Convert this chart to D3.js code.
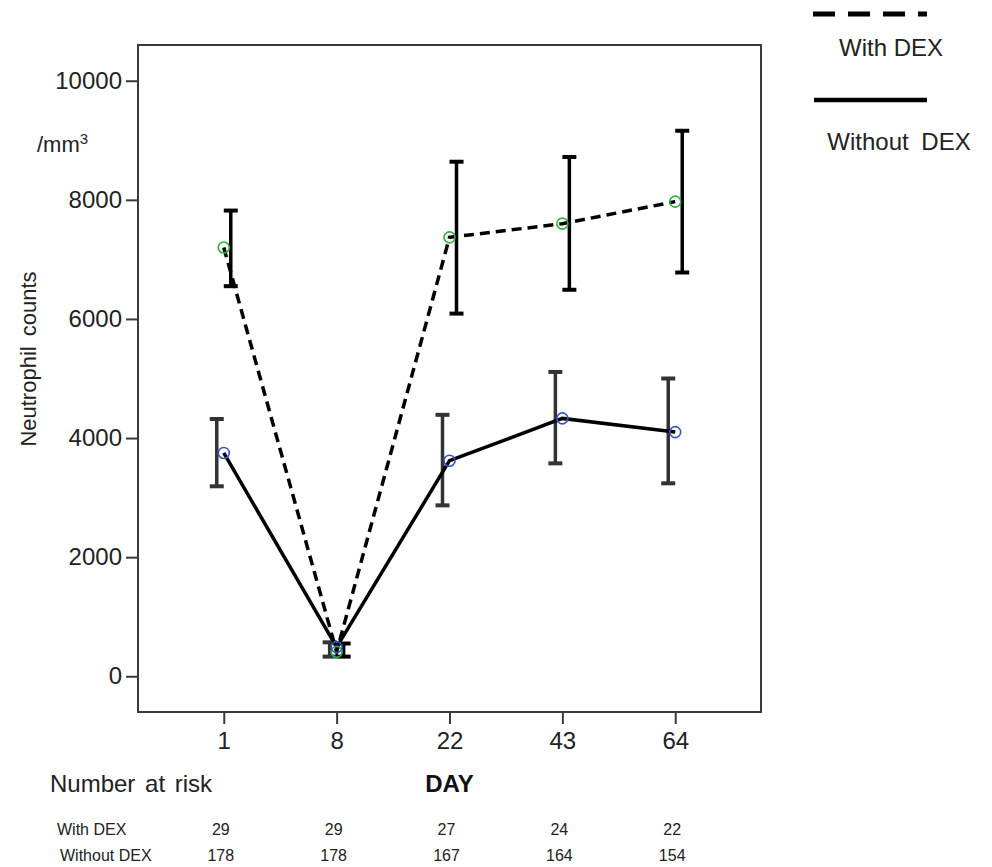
<!DOCTYPE html>
<html>
<head>
<meta charset="utf-8">
<script src="https://cdn.jsdelivr.net/npm/d3@7"></script>
<style>
  body { margin: 0; background: #fff; }
  svg { font-family: "Liberation Sans", Arial, sans-serif; }
</style>
</head>
<body>
<div id="chart"></div>
<script>
// Chart data
const days = ['1', '8', '22', '43', '64'];
const withMean = [7200, 410, 7370, 7600, 7970];
const withLow = [6550, 330, 6090, 6490, 6780];
const withHigh = [7820, 550, 8640, 8720, 9160];
const withoutMean = [3750, 490, 3620, 4330, 4100];
const withoutLow = [3190, 330, 2870, 3575, 3240];
const withoutHigh = [4320, 570, 4390, 5110, 5000];
const riskWith = [29, 29, 27, 24, 22];
const riskWithout = [178, 178, 167, 164, 154];
const yTicks = [0, 2000, 4000, 6000, 8000, 10000];

const width = 992, height = 867;
const frame = { left: 138, right: 761, top: 45, bottom: 712 };

const svg = d3.select('#chart')
    .append('svg')
    .attr('width', width)
    .attr('height', height)
    .attr('viewBox', `0 0 ${width} ${height}`);

const x = d3.scalePoint()
    .domain(days)
    .range([frame.left, frame.right])
    .padding(0.76);

const y = d3.scaleLinear()
    .domain([-600, 10600])
    .range([frame.bottom, frame.top]);

// Frame
svg.append('rect')
    .attr('x', frame.left)
    .attr('y', frame.top)
    .attr('width', frame.right - frame.left)
    .attr('height', frame.bottom - frame.top)
    .attr('fill', 'none')
    .attr('stroke', '#3a3a3a')
    .attr('stroke-width', 2);

// Y axis
const yAxis = svg.append('g')
    .attr('transform', `translate(${frame.left},0)`)
    .call(d3.axisLeft(y).tickValues(yTicks).tickSize(12).tickPadding(4).tickFormat(d3.format('d')));
yAxis.select('.domain').remove();
yAxis.selectAll('.tick line').attr('stroke', '#3a3a3a').attr('stroke-width', 2);
yAxis.selectAll('.tick text')
    .attr('fill', '#222')
    .style('font-size', '24px');

// X axis
const xAxis = svg.append('g')
    .attr('transform', `translate(0,${frame.bottom})`)
    .call(d3.axisBottom(x).tickSize(12).tickPadding(8));
xAxis.select('.domain').remove();
xAxis.selectAll('.tick line').attr('stroke', '#3a3a3a').attr('stroke-width', 2);
xAxis.selectAll('.tick text')
    .attr('fill', '#222')
    .style('font-size', '24px');

// Y title
svg.append('text')
    .attr('transform', 'translate(36,359) rotate(-90)')
    .attr('text-anchor', 'middle')
    .attr('fill', '#222')
    .style('font-size', '22px')
    .style('word-spacing', '4px')
    .text('Neutrophil counts');

const unit = svg.append('text')
    .attr('x', 37)
    .attr('y', 152)
    .attr('fill', '#222')
    .style('font-size', '22px');
unit.append('tspan').text('/mm');
unit.append('tspan').attr('dy', -8).style('font-size', '15px').text('3');

// Error bars (with DEX shifted right, without DEX shifted left)
const groups = [
    { mean: withMean, low: withLow, high: withHigh, off: 7, color: '#000', dash: '10,6', marker: '#2fb040' },
    { mean: withoutMean, low: withoutLow, high: withoutHigh, off: -7, color: '#333', dash: null, marker: '#3653c8' }
];

groups.forEach(g => {
    const bars = svg.append('g');
    days.forEach((d, i) => {
        const cx = x(d) + g.off;
        bars.append('line')
            .attr('x1', cx).attr('x2', cx)
            .attr('y1', y(g.low[i])).attr('y2', y(g.high[i]))
            .attr('stroke', g.color).attr('stroke-width', 3.5);
        [g.low[i], g.high[i]].forEach(v => {
            bars.append('line')
                .attr('x1', cx - 7).attr('x2', cx + 7)
                .attr('y1', y(v)).attr('y2', y(v))
                .attr('stroke', g.color).attr('stroke-width', 4);
        });
    });
});

// Lines
const line = d3.line()
    .x((d, i) => x(days[i]))
    .y(d => y(d));

groups.forEach(g => {
    svg.append('path')
        .datum(g.mean)
        .attr('d', line)
        .attr('fill', 'none')
        .attr('stroke', '#000')
        .attr('stroke-width', 3.5)
        .attr('stroke-dasharray', g.dash);
});

// Markers
groups.forEach(g => {
    svg.append('g')
        .selectAll('circle')
        .data(g.mean)
        .join('circle')
        .attr('cx', (d, i) => x(days[i]))
        .attr('cy', d => y(d))
        .attr('r', 5.5)
        .attr('fill', 'none')
        .attr('stroke', g.marker)
        .attr('stroke-width', 1.6);
});

// Legend
const legend = svg.append('g');
legend.append('line')
    .attr('x1', 813).attr('x2', 927)
    .attr('y1', 14).attr('y2', 14)
    .attr('stroke', '#000').attr('stroke-width', 5)
    .attr('stroke-dasharray', '22,13');
legend.append('text')
    .attr('x', 891).attr('y', 56)
    .attr('text-anchor', 'middle')
    .attr('fill', '#222')
    .style('font-size', '24px')
    .text('With DEX');
legend.append('line')
    .attr('x1', 814).attr('x2', 927)
    .attr('y1', 100).attr('y2', 100)
    .attr('stroke', '#000').attr('stroke-width', 4.5);
legend.append('text')
    .attr('x', 899).attr('y', 150)
    .attr('text-anchor', 'middle')
    .attr('fill', '#222')
    .style('font-size', '24px')
    .style('word-spacing', '6px')
    .text('Without DEX');

// Number at risk table
svg.append('text')
    .attr('x', 50).attr('y', 792)
    .attr('fill', '#222')
    .style('font-size', '24px')
    .style('word-spacing', '3px')
    .text('Number at risk');

svg.append('text')
    .attr('x', (frame.left + frame.right) / 2).attr('y', 792)
    .attr('text-anchor', 'middle')
    .attr('fill', '#111')
    .style('font-size', '24px')
    .style('font-weight', 'bold')
    .text('DAY');

const rows = [
    { label: 'With DEX', values: riskWith, y: 835, lx: 57 },
    { label: 'Without DEX', values: riskWithout, y: 861, lx: 60 }
];
rows.forEach(r => {
    svg.append('text')
        .attr('x', r.lx).attr('y', r.y)
        .attr('fill', '#222')
        .style('font-size', '16px')
        .text(r.label);
    svg.append('g')
        .selectAll('text')
        .data(r.values)
        .join('text')
        .attr('x', (d, i) => x(days[i]) - 3)
        .attr('y', r.y)
        .attr('text-anchor', 'middle')
        .attr('fill', '#222')
        .style('font-size', '16px')
        .text(d => d);
});
</script>
</body>
</html>
